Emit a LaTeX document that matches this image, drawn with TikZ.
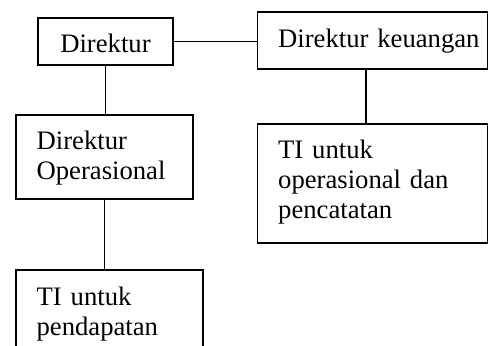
\documentclass[tikz,border=0pt]{standalone}
\usepackage{fontspec}
\setmainfont{Liberation Serif}
\usepackage{tikz}
\usetikzlibrary{positioning}

\tikzset{
    unit/.style={draw, line width=1.4pt, inner xsep=15.5pt, inner ysep=0pt,
        anchor=base, align=left, font=\fontsize{20}{22.5}\selectfont},
    link/.style={line width=1.4pt}
}

\begin{document}
\begin{tikzpicture}[x=0.75pt, y=-0.75pt]
\useasboundingbox (0,0) rectangle (489,346);
\clip (0,0) rectangle (489,346);

% Direktur
\node[unit, align=center, inner xsep=0pt, text width=101.25pt, text height=26.25pt, text depth=9pt] (dir) at (105.5, 53) {Direktur};
\node[unit, text width=141.5pt, text height=27pt, text depth=15.75pt] (keu) at (372.5, 48) {\mbox{Direktur keuangan}};

% Operasional
\node[unit, text width=101.8pt, text height=25.5pt, text depth=37.5pt] (ops) at (104.5, 149) {Direktur\\Operasional};
\node[unit, text width=109.3pt, text height=26.25pt, text depth=67.5pt] (tipen) at (109.5, 305) {TI untuk\\pendapatan};

% Keuangan
\node[unit, text width=141.5pt, text height=25.5pt, text depth=63.75pt] (tiops) at (372.5, 158) {TI untuk\\operasional dan\\pencatatan};

% Lines
\draw[link] (dir.east) -- (dir.east -| keu.west);
\draw[link] (dir.south) -- (dir.south |- ops.north);
\draw[link] (ops.south) -- (ops.south |- tipen.north);
\draw[link] (keu.257) -- (keu.257 |- tiops.north);
\end{tikzpicture}
\end{document}
